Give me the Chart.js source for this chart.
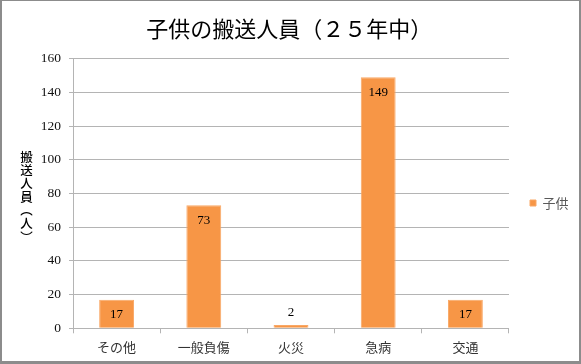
<!DOCTYPE html>
<html lang="ja">
<head>
  <meta charset="UTF-8">
  <title>子供の搬送人員（２５年中）</title>
  <script src="https://cdn.jsdelivr.net/npm/chart.js"></script>
  <style>
    body { margin: 0; background: #fff; }
    #wrap { position: relative; width: 581px; height: 364px; }
    #frame {
      position: absolute; left: 0; top: 0;
      width: 581px; height: 364px;
      box-sizing: border-box;
      border-style: solid;
      border-color: #8c8c8c;
      border-width: 1px 2px 3px 2px;
      pointer-events: none;
    }
  </style>
</head>
<body>
  <div id="wrap">
    <canvas id="chart" width="581" height="364"></canvas>
    <div id="frame"></div>
  </div>

  <script>
    const titleText = '子供の搬送人員（２５年中）';
    const yAxisTitle = '搬送人員（人）';
    const seriesName = '子供';
    const categories = ['その他', '一般負傷', '火災', '急病', '交通'];
    const values = [17, 73, 2, 149, 17];
    const yTicks = [0, 20, 40, 60, 80, 100, 120, 140, 160];

    const gridColor = '#b4b4b4';
    const serif = '"Liberation Serif", "DejaVu Serif", serif';
    const jp = '"Noto Sans CJK JP", sans-serif';

    // vertical y axis title, one character per line
    const verticalTitle = {
      id: 'verticalTitle',
      afterDraw(chart) {
        const ctx = chart.ctx;
        const vert = { '（': '︵', '）': '︶' };
        ctx.save();
        ctx.font = '500 12.5px ' + jp;
        ctx.fillStyle = '#000';
        ctx.textAlign = 'center';
        ctx.textBaseline = 'middle';
        let y = 157;
        for (const ch of yAxisTitle) {
          ctx.fillText(vert[ch] || ch, 26.5, y);
          y += 13.3;
        }
        ctx.restore();
      }
    };

    // value labels: inside the bar top, above it when the bar is too short
    const valueLabels = {
      id: 'valueLabels',
      afterDatasetsDraw(chart) {
        const ctx = chart.ctx;
        const meta = chart.getDatasetMeta(0);
        ctx.save();
        ctx.font = '13px ' + serif;
        ctx.fillStyle = '#000';
        ctx.textAlign = 'center';
        ctx.textBaseline = 'middle';
        meta.data.forEach((bar, i) => {
          const h = bar.base - bar.y;
          const y = h > 26 ? bar.y + 15 : bar.y - 12.5;
          ctx.fillText(String(values[i]), bar.x, y);
        });
        ctx.restore();
      }
    };

    new Chart(document.getElementById('chart'), {
      type: 'bar',
      data: {
        labels: categories,
        datasets: [{
          label: seriesName,
          data: values,
          backgroundColor: '#f79646',
          borderColor: '#f9a866',
          borderWidth: 1,
          barPercentage: 0.4,
          categoryPercentage: 1
        }]
      },
      options: {
        responsive: false,
        animation: false,
        layout: { padding: { left: 0, right: 2.5, top: 0, bottom: 0 } },
        plugins: {
          title: {
            display: true,
            text: titleText,
            color: '#000',
            font: { family: jp, size: 22, weight: 'normal' },
            padding: { top: 15.8, bottom: 16.5 }
          },
          legend: {
            position: 'right',
            fullSize: false,
            title: {
              display: true,
              text: '',
              font: { size: 10 },
              padding: { top: 0, bottom: 7 }
            },
            labels: {
              boxWidth: 6,
              boxHeight: 6,
              padding: 21,
              color: '#595959',
              font: { family: jp, size: 13 }
            }
          },
          tooltip: { enabled: false }
        },
        scales: {
          x: {
            grid: {
              drawOnChartArea: false,
              drawTicks: true,
              tickLength: 5,
              color: gridColor
            },
            border: { color: gridColor },
            ticks: {
              color: '#333',
              padding: 6,
              font: { family: jp, size: 13 }
            },
            afterFit(scale) { scale.height = 364 - 328.3; }
          },
          y: {
            min: yTicks[0],
            max: yTicks[yTicks.length - 1],
            afterBuildTicks(scale) { scale.ticks = yTicks.map(v => ({ value: v })); },
            grid: { color: gridColor, tickLength: 4 },
            border: { color: gridColor },
            ticks: {
              color: '#111',
              padding: 8,
              font: { family: serif, size: 13.5 }
            },
            afterFit(scale) { scale.width = 73; }
          }
        }
      },
      plugins: [verticalTitle, valueLabels]
    });
  </script>
</body>
</html>
